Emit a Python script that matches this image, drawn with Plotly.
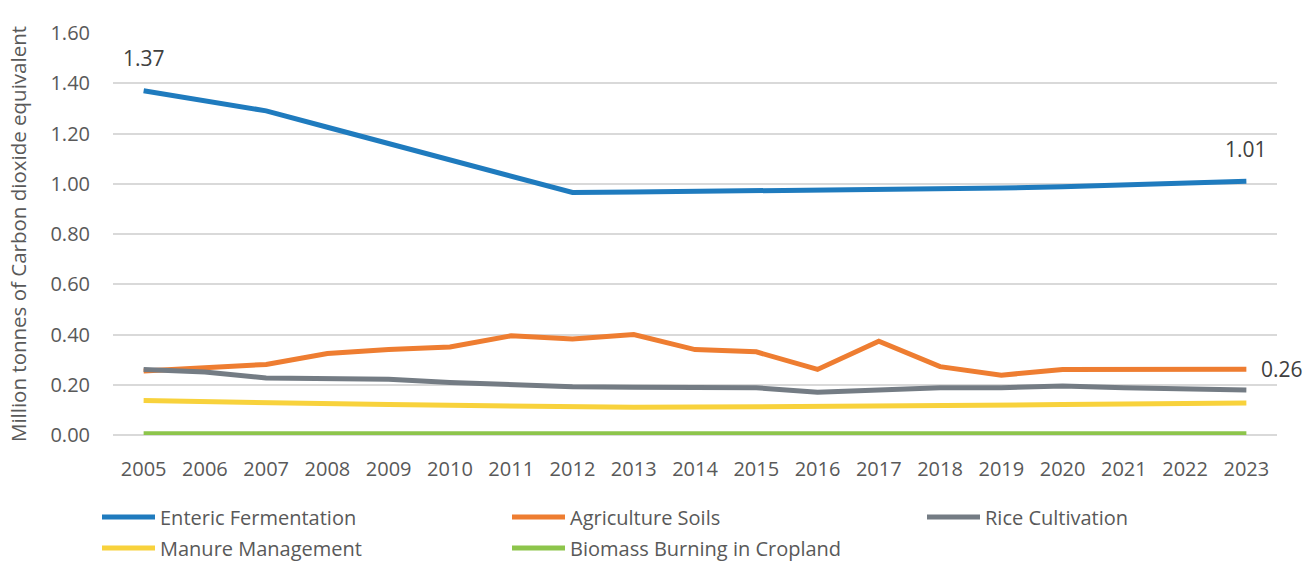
import plotly.graph_objects as go

years = [str(y) for y in range(2005, 2024)]
enteric = [1.37, 1.33, 1.29, 1.225, 1.16, 1.095, 1.03, 0.965, 0.967, 0.969, 0.971, 0.973,
           0.976, 0.979, 0.983, 0.988, 0.994, 1.001, 1.01]
soils = [0.255, 0.267, 0.281, 0.324, 0.340, 0.350, 0.395, 0.382, 0.400, 0.340, 0.331, 0.261,
         0.373, 0.272, 0.238, 0.261, 0.261, 0.261, 0.262]
rice = [0.261, 0.251, 0.227, 0.222, 0.222, 0.209, 0.201, 0.192, 0.190, 0.190, 0.188, 0.170,
        0.180, 0.188, 0.188, 0.195, 0.188, 0.183, 0.179]
manure = [0.137, 0.132, 0.128, 0.124, 0.121, 0.118, 0.114, 0.110, 0.110, 0.111, 0.112, 0.113,
          0.115, 0.117, 0.119, 0.121, 0.123, 0.125, 0.127]
biomass = [0.005, 0.005, 0.005, 0.005, 0.005, 0.005, 0.005, 0.005, 0.005, 0.005, 0.005, 0.003,
           0.003, 0.004, 0.005, 0.005, 0.005, 0.005, 0.005]

names = ["Enteric Fermentation", "Agriculture Soils", "Rice Cultivation",
         "Manure Management", "Biomass Burning in Cropland"]
series = [enteric, soils, rice, manure, biomass]
colors = ["#1F7BBE", "#EE7D31", "#747C84", "#F8D23C", "#8DC54B"]

W, H = 1304, 561
ML, MR, MT, MB = 113, 27, 33, 126
PW, PH = W - ML - MR, H - MT - MB

font_family = "Open Sans, Noto Sans, sans-serif"
fig = go.Figure()
for name, vals, col in zip(names, series, colors):
    fig.add_trace(go.Scatter(x=years, y=vals, name=name, mode="lines",
                             line=dict(color=col, width=5), showlegend=False))

# data labels
lab_font = dict(size=21, color="#404040", family=font_family)
first, last = 0, len(years) - 1
fig.add_annotation(x=first, y=enteric[first], text=f"{enteric[first]:.2f}", showarrow=False,
                   yshift=33, font=lab_font)
fig.add_annotation(x=last, y=enteric[last], text=f"{enteric[last]:.2f}", showarrow=False,
                   yshift=32, font=lab_font)
fig.add_annotation(x=last, y=soils[last], text=f"{soils[last]:.2f}", showarrow=False,
                   xanchor="left", xshift=13, font=lab_font)

# manual legend (pixel layout converted to paper coords)
def px_x(px):
    return (px - ML) / PW

def px_y(py):
    return (H - MB - py) / PH

leg_pos = [(100, 517), (510, 517), (925, 517), (100, 548), (510, 548)]
for name, col, (lx, ly) in zip(names, colors, leg_pos):
    fig.add_shape(type="line", xref="paper", yref="paper",
                  x0=px_x(lx + 2), x1=px_x(lx + 55), y0=px_y(ly), y1=px_y(ly),
                  line=dict(color=col, width=5))
    fig.add_annotation(xref="paper", yref="paper", x=px_x(lx + 58), y=px_y(ly),
                       xanchor="left", yanchor="middle", text=name, showarrow=False,
                       font=dict(size=20, color="#595959", family=font_family))

fig.update_layout(
    width=W, height=H,
    margin=dict(l=ML, r=MR, t=MT, b=MB),
    paper_bgcolor="white", plot_bgcolor="white",
    font=dict(family=font_family, size=20, color="#595959"),
    showlegend=False,
    xaxis=dict(type="category", range=[-0.5, 18.5], showgrid=False, showline=False,
               ticks="", ticklabelstandoff=20, automargin=False,
               tickfont=dict(size=20, color="#595959")),
    yaxis=dict(range=[0, 1.6], dtick=0.2, tickformat=".2f", showgrid=True,
               gridcolor="#D9D9D9", gridwidth=1.5, zeroline=True, zerolinecolor="#D9D9D9",
               zerolinewidth=1.5, ticks="", ticklabelstandoff=22, automargin=False,
               tickfont=dict(size=20, color="#595959"),
               title=dict(text="Million tonnes of Carbon dioxide equivalent",
                          font=dict(size=20.5, color="#595959"), standoff=18)),
)
fig.write_html("out.html", config={"displayModeBar": False},
               post_script="document.body.style.margin='0';document.body.style.overflow='hidden';")
